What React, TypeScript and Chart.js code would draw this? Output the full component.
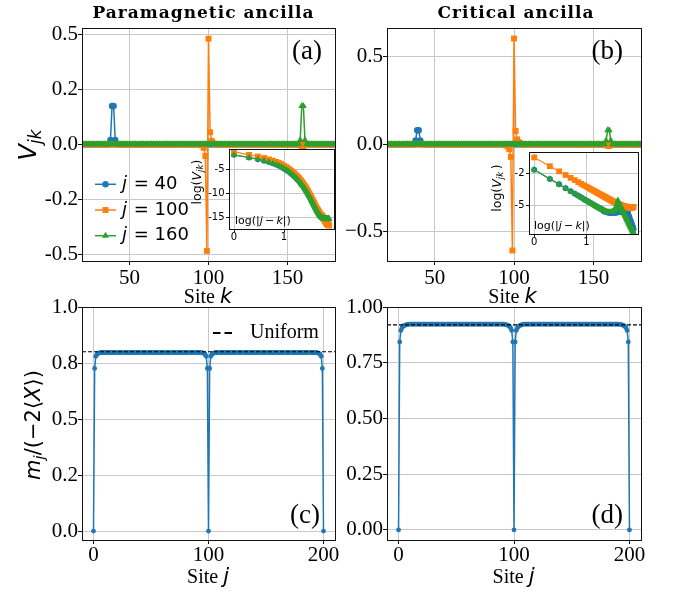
import React, { useEffect, useRef } from 'react';
import { Chart, registerables } from 'chart.js';

Chart.register(...registerables);

const W = 673;
const H = 595;
const BLUE = '#1f77b4';
const ORANGE = '#ff7f0e';
const GREEN = '#2ca02c';
const GRID = '#c9c9c9';
const INK = '#111111';
const SERIF = '"Liberation Serif", "DejaVu Serif", serif';
const SANS = '"DejaVu Sans", "Liberation Sans", sans-serif';

// ---------- categories ----------
const sitesK = [
  20, 21, 22, 23, 24, 25, 26, 27, 28, 29, 30, 31, 32, 33, 34, 35, 36, 37, 38, 39,
  40, 41, 42, 43, 44, 45, 46, 47, 48, 49, 50, 51, 52, 53, 54, 55, 56, 57, 58, 59,
  60, 61, 62, 63, 64, 65, 66, 67, 68, 69, 70, 71, 72, 73, 74, 75, 76, 77, 78, 79,
  80, 81, 82, 83, 84, 85, 86, 87, 88, 89, 90, 91, 92, 93, 94, 95, 96, 97, 98, 99,
  100, 101, 102, 103, 104, 105, 106, 107, 108, 109, 110, 111, 112, 113, 114, 115, 116, 117, 118, 119,
  120, 121, 122, 123, 124, 125, 126, 127, 128, 129, 130, 131, 132, 133, 134, 135, 136, 137, 138, 139,
  140, 141, 142, 143, 144, 145, 146, 147, 148, 149, 150, 151, 152, 153, 154, 155, 156, 157, 158, 159,
  160, 161, 162, 163, 164, 165, 166, 167, 168, 169, 170, 171, 172, 173, 174, 175, 176, 177, 178, 179,
  180,
];

const sitesJ = [
  0, 1, 2, 3, 4, 5, 6, 7, 8, 9, 10, 11, 12, 13, 14, 15, 16, 17, 18, 19,
  20, 21, 22, 23, 24, 25, 26, 27, 28, 29, 30, 31, 32, 33, 34, 35, 36, 37, 38, 39,
  40, 41, 42, 43, 44, 45, 46, 47, 48, 49, 50, 51, 52, 53, 54, 55, 56, 57, 58, 59,
  60, 61, 62, 63, 64, 65, 66, 67, 68, 69, 70, 71, 72, 73, 74, 75, 76, 77, 78, 79,
  80, 81, 82, 83, 84, 85, 86, 87, 88, 89, 90, 91, 92, 93, 94, 95, 96, 97, 98, 99,
  100, 101, 102, 103, 104, 105, 106, 107, 108, 109, 110, 111, 112, 113, 114, 115, 116, 117, 118, 119,
  120, 121, 122, 123, 124, 125, 126, 127, 128, 129, 130, 131, 132, 133, 134, 135, 136, 137, 138, 139,
  140, 141, 142, 143, 144, 145, 146, 147, 148, 149, 150, 151, 152, 153, 154, 155, 156, 157, 158, 159,
  160, 161, 162, 163, 164, 165, 166, 167, 168, 169, 170, 171, 172, 173, 174, 175, 176, 177, 178, 179,
  180, 181, 182, 183, 184, 185, 186, 187, 188, 189, 190, 191, 192, 193, 194, 195, 196, 197, 198, 199,
  200,
];

// |j-k| distances for the insets
const dists = [
  1, 2, 3, 4, 5, 6, 7, 8, 9, 10, 11, 12, 13, 14, 15, 16, 17, 18, 19, 20,
  21, 22, 23, 24, 25, 26, 27, 28, 29, 30, 31, 32, 33, 34, 35, 36, 37, 38, 39, 40,
  41, 42, 43, 44, 45, 46, 47, 48, 49, 50, 51, 52, 53, 54, 55, 56, 57, 58, 59, 60,
  61, 62, 63, 64, 65, 66, 67, 68, 69, 70, 71, 72, 73, 74, 75, 76, 77, 78, 79, 80,
];

const seriesJ = ['40', '100', '160'];

// ---------- (a) paramagnetic ancilla, V_jk vs k ----------
const paraV40 = [
  0, 0, 0, 0, 0, 0, 0, 0, 0, 0, 0, 0, 0, 0, 0, 0, 0, 0, 0.02, 0.174,
  0.174, 0.02, 0, 0, 0, 0, 0, 0, 0, 0, 0, 0, 0, 0, 0, 0, 0, 0, 0, 0,
  0, 0, 0, 0, 0, 0, 0, 0, 0, 0, 0, 0, 0, 0, 0, 0, 0, 0, 0, 0,
  0, 0, 0, 0, 0, 0, 0, 0, 0, 0, 0, 0, 0, 0, 0, 0, 0, 0, 0, 0,
  0, 0, 0, 0, 0, 0, 0, 0, 0, 0, 0, 0, 0, 0, 0, 0, 0, 0, 0, 0,
  0, 0, 0, 0, 0, 0, 0, 0, 0, 0, 0, 0, 0, 0, 0, 0, 0, 0, 0, 0,
  0, 0, 0, 0, 0, 0, 0, 0, 0, 0, 0, 0, 0, 0, 0, 0, 0, 0, 0, 0,
  0, 0, 0, 0, 0, 0, 0, 0, 0, 0, 0, 0, 0, 0, 0, 0, 0, 0, 0, 0,
  0,
];
const paraV100 = [
  0, 0, 0, 0, 0, 0, 0, 0, 0, 0, 0, 0, 0, 0, 0, 0, 0, 0, 0, 0,
  0, 0, 0, 0, 0, 0, 0, 0, 0, 0, 0, 0, 0, 0, 0, 0, 0, 0, 0, 0,
  0, 0, 0, 0, 0, 0, 0, 0, 0, 0, 0, 0, 0, 0, 0, 0, 0, 0, 0, 0,
  0, 0, 0, 0, 0, 0, 0, 0, 0, 0, 0, 0, 0, 0, 0, 0, -0.005, -0.016, -0.053, -0.484,
  0.48, 0.055, 0.016, 0.005, 0, 0, 0, 0, 0, 0, 0, 0, 0, 0, 0, 0, 0, 0, 0, 0,
  0, 0, 0, 0, 0, 0, 0, 0, 0, 0, 0, 0, 0, 0, 0, 0, 0, 0, 0, 0,
  0, 0, 0, 0, 0, 0, 0, 0, 0, 0, 0, 0, 0, 0, 0, 0, 0, 0, 0, -0.01,
  -0.012, 0, 0, 0, 0, 0, 0, 0, 0, 0, 0, 0, 0, 0, 0, 0, 0, 0, 0, 0,
  0,
];
const paraV160 = [
  0, 0, 0, 0, 0, 0, 0, 0, 0, 0, 0, 0, 0, 0, 0, 0, 0, 0, 0, 0,
  0, 0, 0, 0, 0, 0, 0, 0, 0, 0, 0, 0, 0, 0, 0, 0, 0, 0, 0, 0,
  0, 0, 0, 0, 0, 0, 0, 0, 0, 0, 0, 0, 0, 0, 0, 0, 0, 0, 0, 0,
  0, 0, 0, 0, 0, 0, 0, 0, 0, 0, 0, 0, 0, 0, 0, 0, 0, 0, 0, 0,
  0, 0, 0, 0, 0, 0, 0, 0, 0, 0, 0, 0, 0, 0, 0, 0, 0, 0, 0, 0,
  0, 0, 0, 0, 0, 0, 0, 0, 0, 0, 0, 0, 0, 0, 0, 0, 0, 0, 0, 0,
  0, 0, 0, 0, 0, 0, 0, 0, 0, 0, 0, 0, 0, 0, 0, 0, 0, 0, 0.02, 0.174,
  0.174, 0.02, 0, 0, 0, 0, 0, 0, 0, 0, 0, 0, 0, 0, 0, 0, 0, 0, 0, 0,
  0,
];

// ---------- (b) critical ancilla, V_jk vs k ----------
const critV40 = [
  0, 0, 0, 0, 0, 0, 0, 0, 0, 0, 0, 0, 0, 0, 0, 0, 0, 0, 0.022, 0.08,
  0.08, 0.022, 0, 0, 0, 0, 0, 0, 0, 0, 0, 0, 0, 0, 0, 0, 0, 0, 0, 0,
  0, 0, 0, 0, 0, 0, 0, 0, 0, 0, 0, 0, 0, 0, 0, 0, 0, 0, 0, 0,
  0, 0, 0, 0, 0, 0, 0, 0, 0, 0, 0, 0, 0, 0, 0, 0, 0, 0, 0, 0,
  0, 0, 0, 0, 0, 0, 0, 0, 0, 0, 0, 0, 0, 0, 0, 0, 0, 0, 0, 0,
  0, 0, 0, 0, 0, 0, 0, 0, 0, 0, 0, 0, 0, 0, 0, 0, 0, 0, 0, 0,
  0, 0, 0, 0, 0, 0, 0, 0, 0, 0, 0, 0, 0, 0, 0, 0, 0, 0, 0, 0,
  0, 0, 0, 0, 0, 0, 0, 0, 0, 0, 0, 0, 0, 0, 0, 0, 0, 0, 0, 0,
  0,
];
const critV100 = [
  0, 0, 0, 0, 0, 0, 0, 0, 0, 0, 0, 0, 0, 0, 0, 0, 0, 0, 0, 0,
  0, 0, 0, 0, 0, 0, 0, 0, 0, 0, 0, 0, 0, 0, 0, 0, 0, 0, 0, 0,
  0, 0, 0, 0, 0, 0, 0, 0, 0, 0, 0, 0, 0, 0, 0, 0, 0, 0, 0, 0,
  0, 0, 0, 0, 0, 0, 0, 0, 0, 0, 0, 0, 0, 0, 0, -0.006, -0.012, -0.028, -0.072, -0.606,
  0.604, 0.076, 0.028, 0.012, 0.006, 0, 0, 0, 0, 0, 0, 0, 0, 0, 0, 0, 0, 0, 0, 0,
  0, 0, 0, 0, 0, 0, 0, 0, 0, 0, 0, 0, 0, 0, 0, 0, 0, 0, 0, 0,
  0, 0, 0, 0, 0, 0, 0, 0, 0, 0, 0, 0, 0, 0, 0, 0, 0, 0, 0, -0.008,
  -0.01, 0, 0, 0, 0, 0, 0, 0, 0, 0, 0, 0, 0, 0, 0, 0, 0, 0, 0, 0,
  0,
];
const critV160 = [
  0, 0, 0, 0, 0, 0, 0, 0, 0, 0, 0, 0, 0, 0, 0, 0, 0, 0, 0, 0,
  0, 0, 0, 0, 0, 0, 0, 0, 0, 0, 0, 0, 0, 0, 0, 0, 0, 0, 0, 0,
  0, 0, 0, 0, 0, 0, 0, 0, 0, 0, 0, 0, 0, 0, 0, 0, 0, 0, 0, 0,
  0, 0, 0, 0, 0, 0, 0, 0, 0, 0, 0, 0, 0, 0, 0, 0, 0, 0, 0, 0,
  0, 0, 0, 0, 0, 0, 0, 0, 0, 0, 0, 0, 0, 0, 0, 0, 0, 0, 0, 0,
  0, 0, 0, 0, 0, 0, 0, 0, 0, 0, 0, 0, 0, 0, 0, 0, 0, 0, 0, 0,
  0, 0, 0, 0, 0, 0, 0, 0, 0, 0, 0, 0, 0, 0, 0, 0, 0, 0, 0.022, 0.08,
  0.08, 0.022, 0, 0, 0, 0, 0, 0, 0, 0, 0, 0, 0, 0, 0, 0, 0, 0, 0, 0,
  0,
];

// ---------- insets: log(V_jk) vs |j-k| ----------
const paraLog40 = [
  -2.0, -2.55, -2.9, -3.2, -3.5, -3.75, -4.0, -4.25, -4.5, -4.8,
  -5.06, -5.32, -5.58, -5.84, -6.1, -6.36, -6.62, -6.88, -7.14, -7.4,
  -7.66, -7.92, -8.18, -8.44, -8.7, -8.96, -9.22, -9.48, -9.74, -10.0,
  -10.25, -10.5, -10.75, -11.0, -11.25, -11.5, -11.74, -11.97, -12.2, -12.42,
  -12.63, -12.84, -13.04, -13.24, -13.43, -13.61, -13.78, -13.94, -14.09, -14.23,
  -14.36, -14.48, -14.59, -14.69, -14.78, -14.86, -14.93, -14.99, -15.04, -15.08,
  -15.15, -15.2, -15.3, -15.35, -15.45, -15.5, -15.6, -15.65, -15.75, -15.8,
  -15.9, -15.95, -16.05, -16.1, -16.2, -16.25, -16.3, -16.4, -16.45, -16.5,
];
const paraLog100 = [
  -1.4, -2.0, -2.35, -2.65, -2.95, -3.2, -3.45, -3.7, -3.95, -4.25,
  -4.51, -4.77, -5.03, -5.29, -5.55, -5.81, -6.07, -6.33, -6.59, -6.85,
  -7.11, -7.37, -7.63, -7.89, -8.15, -8.41, -8.67, -8.93, -9.19, -9.45,
  -9.75, -10.0, -10.25, -10.5, -10.75, -11.0, -11.24, -11.47, -11.7, -11.92,
  -12.18, -12.39, -12.59, -12.79, -12.98, -13.16, -13.33, -13.49, -13.64, -13.78,
  -13.96, -14.08, -14.19, -14.29, -14.38, -14.46, -14.55, -14.65, -14.76, -14.88,
  -15.0, -15.12, -15.25, -15.38, -15.5, -15.62, -15.74, -15.85, -15.95, -16.05,
  -16.14, -16.22, -16.3, -16.36, -16.42, -16.46, -16.5, -16.52, -16.55, -16.55,
];
const paraLog160 = [
  -2.0, -2.55, -2.9, -3.2, -3.5, -3.75, -4.0, -4.25, -4.5, -4.8,
  -5.06, -5.32, -5.58, -5.84, -6.1, -6.36, -6.62, -6.88, -7.14, -7.4,
  -7.66, -7.92, -8.18, -8.44, -8.7, -8.96, -9.22, -9.48, -9.74, -10.0,
  -10.25, -10.5, -10.75, -11.0, -11.25, -11.5, -11.74, -11.97, -12.2, -12.42,
  -12.63, -12.84, -13.04, -13.24, -13.43, -13.61, -13.78, -13.94, -14.09, -14.23,
  -14.36, -14.48, -14.59, -14.69, -14.78, -14.86, -14.93, -14.99, -15.04, -15.08,
  -15.1, -15.12, -15.15, -15.1, -15.2, -15.15, -15.25, -15.1, -15.2, -15.3,
  -15.15, -15.2, -15.1, -15.25, -15.2, -15.3, -15.15, -15.2, -15.1, -15.25,
];

const critLog40 = [
  -1.7, -2.55, -3.05, -3.42, -3.7, -3.93, -4.12, -4.29, -4.44, -4.57,
  -4.69, -4.8, -4.9, -4.99, -5.08, -5.16, -5.23, -5.3, -5.36, -5.42,
  -5.52, -5.57, -5.61, -5.64, -5.67, -5.69, -5.7, -5.71, -5.71, -5.71,
  -5.71, -5.71, -5.71, -5.71, -5.7, -5.7, -5.69, -5.68, -5.67, -5.66,
  -5.65, -5.64, -5.63, -5.62, -5.61, -5.6, -5.59, -5.58, -5.57, -5.56,
  -5.55, -5.54, -5.53, -5.52, -5.51, -5.5, -5.48, -5.46, -5.44, -5.42,
  -5.6, -5.72, -5.83, -5.93, -6.03, -6.12, -6.21, -6.3, -6.38, -6.46,
  -6.54, -6.62, -6.7, -6.78, -6.86, -6.94, -7.02, -7.1, -7.18, -7.26,
];
const critLog100 = [
  -0.54, -1.36, -1.84, -2.18, -2.45, -2.66, -2.85, -3.01, -3.15, -3.27,
  -3.38, -3.49, -3.58, -3.67, -3.75, -3.83, -3.9, -3.97, -4.03, -4.09,
  -4.15, -4.2, -4.25, -4.3, -4.35, -4.39, -4.44, -4.48, -4.52, -4.56,
  -4.6, -4.63, -4.67, -4.7, -4.73, -4.76, -4.79, -4.82, -4.85, -4.88,
  -4.9, -4.93, -4.95, -4.97, -4.99, -5.01, -5.03, -5.05, -5.06, -5.08,
  -5.09, -5.1, -5.11, -5.12, -5.13, -5.14, -5.15, -5.16, -5.17, -5.18,
  -5.19, -5.2, -5.2, -5.21, -5.21, -5.22, -5.22, -5.22, -5.23, -5.23,
  -5.23, -5.23, -5.23, -5.22, -5.22, -5.21, -5.2, -5.19, -5.18, -5.16,
];
const critLog160 = [
  -1.7, -2.55, -3.05, -3.42, -3.7, -3.93, -4.12, -4.29, -4.44, -4.57,
  -4.69, -4.8, -4.9, -4.99, -5.08, -5.16, -5.23, -5.3, -5.36, -5.42,
  -5.47, -5.52, -5.56, -5.59, -5.62, -5.64, -5.65, -5.66, -5.66, -5.65,
  -5.63, -5.6, -5.56, -5.5, -5.42, -5.32, -5.19, -5.02, -4.8, -4.55,
  -4.66, -4.77, -4.88, -4.98, -5.07, -5.17, -5.26, -5.36, -5.45, -5.54,
  -5.62, -5.71, -5.79, -5.87, -5.95, -6.03, -6.1, -6.18, -6.25, -6.32,
  -6.4, -6.47, -6.53, -6.6, -6.67, -6.74, -6.8, -6.87, -6.93, -6.99,
  -7.05, -7.11, -7.17, -7.23, -7.29, -7.35, -7.4, -7.46, -7.52, -7.57,
];

// ---------- (c),(d) m_j / (-2<X>) vs j ----------
const paraM = [
  0, 0.726, 0.78, 0.789, 0.793, 0.795, 0.796, 0.797, 0.797, 0.797, 0.797, 0.797, 0.797, 0.797, 0.797, 0.797, 0.797, 0.797, 0.797, 0.797,
  0.797, 0.797, 0.797, 0.797, 0.797, 0.797, 0.797, 0.797, 0.797, 0.797, 0.797, 0.797, 0.797, 0.797, 0.797, 0.797, 0.797, 0.797, 0.797, 0.797,
  0.797, 0.797, 0.797, 0.797, 0.797, 0.797, 0.797, 0.797, 0.797, 0.797, 0.797, 0.797, 0.797, 0.797, 0.797, 0.797, 0.797, 0.797, 0.797, 0.797,
  0.797, 0.797, 0.797, 0.797, 0.797, 0.797, 0.797, 0.797, 0.797, 0.797, 0.797, 0.797, 0.797, 0.797, 0.797, 0.797, 0.797, 0.797, 0.797, 0.797,
  0.797, 0.797, 0.797, 0.797, 0.797, 0.797, 0.797, 0.797, 0.797, 0.797, 0.797, 0.797, 0.797, 0.797, 0.796, 0.795, 0.793, 0.789, 0.78, 0.726,
  0, 0.726, 0.78, 0.789, 0.793, 0.795, 0.796, 0.797, 0.797, 0.797, 0.797, 0.797, 0.797, 0.797, 0.797, 0.797, 0.797, 0.797, 0.797, 0.797,
  0.797, 0.797, 0.797, 0.797, 0.797, 0.797, 0.797, 0.797, 0.797, 0.797, 0.797, 0.797, 0.797, 0.797, 0.797, 0.797, 0.797, 0.797, 0.797, 0.797,
  0.797, 0.797, 0.797, 0.797, 0.797, 0.797, 0.797, 0.797, 0.797, 0.797, 0.797, 0.797, 0.797, 0.797, 0.797, 0.797, 0.797, 0.797, 0.797, 0.797,
  0.797, 0.797, 0.797, 0.797, 0.797, 0.797, 0.797, 0.797, 0.797, 0.797, 0.797, 0.797, 0.797, 0.797, 0.797, 0.797, 0.797, 0.797, 0.797, 0.797,
  0.797, 0.797, 0.797, 0.797, 0.797, 0.797, 0.797, 0.797, 0.797, 0.797, 0.797, 0.797, 0.797, 0.797, 0.796, 0.795, 0.793, 0.789, 0.78, 0.726,
  0,
];
const critM = [
  0, 0.843, 0.895, 0.907, 0.913, 0.917, 0.919, 0.921, 0.922, 0.923, 0.923, 0.923, 0.923, 0.923, 0.923, 0.923, 0.923, 0.923, 0.923, 0.923,
  0.923, 0.923, 0.923, 0.923, 0.923, 0.923, 0.923, 0.923, 0.923, 0.923, 0.923, 0.923, 0.923, 0.923, 0.923, 0.923, 0.923, 0.923, 0.923, 0.923,
  0.923, 0.923, 0.923, 0.923, 0.923, 0.923, 0.923, 0.923, 0.923, 0.923, 0.923, 0.923, 0.923, 0.923, 0.923, 0.923, 0.923, 0.923, 0.923, 0.923,
  0.923, 0.923, 0.923, 0.923, 0.923, 0.923, 0.923, 0.923, 0.923, 0.923, 0.923, 0.923, 0.923, 0.923, 0.923, 0.923, 0.923, 0.923, 0.923, 0.923,
  0.923, 0.923, 0.923, 0.923, 0.923, 0.923, 0.923, 0.923, 0.923, 0.923, 0.923, 0.923, 0.922, 0.921, 0.919, 0.917, 0.913, 0.907, 0.895, 0.843,
  0, 0.843, 0.895, 0.907, 0.913, 0.917, 0.919, 0.921, 0.922, 0.923, 0.923, 0.923, 0.923, 0.923, 0.923, 0.923, 0.923, 0.923, 0.923, 0.923,
  0.923, 0.923, 0.923, 0.923, 0.923, 0.923, 0.923, 0.923, 0.923, 0.923, 0.923, 0.923, 0.923, 0.923, 0.923, 0.923, 0.923, 0.923, 0.923, 0.923,
  0.923, 0.923, 0.923, 0.923, 0.923, 0.923, 0.923, 0.923, 0.923, 0.923, 0.923, 0.923, 0.923, 0.923, 0.923, 0.923, 0.923, 0.923, 0.923, 0.923,
  0.923, 0.923, 0.923, 0.923, 0.923, 0.923, 0.923, 0.923, 0.923, 0.923, 0.923, 0.923, 0.923, 0.923, 0.923, 0.923, 0.923, 0.923, 0.923, 0.923,
  0.923, 0.923, 0.923, 0.923, 0.923, 0.923, 0.923, 0.923, 0.923, 0.923, 0.923, 0.923, 0.922, 0.921, 0.919, 0.917, 0.913, 0.907, 0.895, 0.843,
  0,
];
const paraUniform = 0.8;
const critUniform = 0.92;

// ---------- ticks ----------
const kTicks = [50, 100, 150];
const kTickLabels = ['50', '100', '150'];
const vTicksA = [-0.5, -0.25, 0, 0.25, 0.5];
const vTickLabelsA = ['-0.5', '-0.2', '0.0', '0.2', '0.5'];
const vTicksB = [-0.5, 0, 0.5];
const vTickLabelsB = ['\u22120.5', '0.0', '0.5'];
const jTicks = [0, 100, 200];
const jTickLabels = ['0', '100', '200'];
const mTicks = [0, 0.25, 0.5, 0.75, 1];
const mTickLabelsC = ['0.0', '0.2', '0.5', '0.8', '1.0'];
const mTickLabelsD = ['0.00', '0.25', '0.50', '0.75', '1.00'];
const dTicks = [1, 10];
const dTickLabels = ['0', '1'];
const logTicksA = [-15, -10, -5];
const logTickLabelsA = ['-15', '-10', '-5'];
const logTicksB = [-5, -2];
const logTickLabelsB = ['-5', '-2'];

// ---------- helpers ----------
type Axis = { type?: string; min: number; max: number; ticks: number[]; labels: string[] };
type Spec = {
  box: { l: number; t: number; r: number; b: number };
  yW: number;
  xH: number;
  x: Axis;
  y: Axis;
  font: string;
  fontSize: number;
  xTick: [number, number];
  yTick: [number, number];
  datasets: any[];
  plugins?: any[];
};

function scaleOpts(ax: Axis, horizontal: boolean, size: number, font: string, fontSize: number, tl: number, pad: number) {
  return {
    type: ax.type ?? 'linear',
    position: horizontal ? 'bottom' : 'left',
    min: ax.min,
    max: ax.max,
    afterBuildTicks: (s: any) => {
      s.ticks = ax.ticks.map((value) => ({ value }));
    },
    afterFit: (s: any) => {
      if (horizontal) s.height = size;
      else s.width = size;
    },
    ticks: {
      autoSkip: false,
      maxRotation: 0,
      minRotation: 0,
      padding: pad,
      color: '#000',
      font: { family: font, size: fontSize },
      callback: (_v: any, i: number) => ax.labels[i],
    },
    grid: { color: GRID, lineWidth: 1, drawTicks: true, tickLength: tl, tickColor: INK, tickWidth: 1 },
    border: { display: false },
  };
}

const framePlugin = {
  id: 'frame',
  afterDraw(chart: any) {
    const { ctx, chartArea: a } = chart;
    const L = Math.round(a.left - 0.5) + 0.5;
    const R = Math.round(a.right - 0.5) + 0.5;
    const T = Math.round(a.top - 0.5) + 0.5;
    const B = Math.round(a.bottom - 0.5) + 0.5;
    ctx.save();
    ctx.strokeStyle = INK;
    ctx.lineWidth = 1;
    ctx.strokeRect(L, T, R - L, B - T);
    ctx.restore();
  },
};

const whiteBgPlugin = {
  id: 'whiteBg',
  beforeDraw(chart: any) {
    const { ctx, chartArea: a } = chart;
    ctx.save();
    ctx.fillStyle = '#ffffff';
    ctx.fillRect(a.left, a.top, a.right - a.left, a.bottom - a.top);
    ctx.restore();
  },
};

function drawMarker(ctx: CanvasRenderingContext2D, style: string, x: number, y: number, r: number) {
  ctx.beginPath();
  if (style === 'circle') ctx.arc(x, y, r, 0, Math.PI * 2);
  else if (style === 'rect') {
    const s = r * Math.SQRT1_2;
    ctx.rect(x - s, y - s, 2 * s, 2 * s);
  } else {
    ctx.moveTo(x, y - r);
    ctx.lineTo(x + r * 0.866, y + r / 2);
    ctx.lineTo(x - r * 0.866, y + r / 2);
    ctx.closePath();
  }
  ctx.fill();
}

const legendStyles = [
  { color: BLUE, style: 'circle', r: 3.2 },
  { color: ORANGE, style: 'rect', r: 4.2 },
  { color: GREEN, style: 'triangle', r: 4 },
];

const seriesLegendPlugin = {
  id: 'seriesLegend',
  afterDraw(chart: any) {
    const { ctx, chartArea: a } = chart;
    const x0 = a.left + 13;
    ctx.save();
    legendStyles.forEach((s, i) => {
      const y = a.top + 156.3 + i * 25.7;
      ctx.strokeStyle = s.color;
      ctx.fillStyle = s.color;
      ctx.lineWidth = 1.5;
      ctx.beginPath();
      ctx.moveTo(x0, y);
      ctx.lineTo(x0 + 21, y);
      ctx.stroke();
      drawMarker(ctx, s.style, x0 + 10.5, y, s.r);
      ctx.fillStyle = '#000';
      ctx.textBaseline = 'middle';
      ctx.textAlign = 'left';
      ctx.font = `italic 18px ${SANS}`;
      const tx = x0 + 27;
      ctx.fillText('j', tx, y);
      const wj = ctx.measureText('j').width;
      ctx.font = `18px ${SANS}`;
      ctx.fillText(` = ${seriesJ[i]}`, tx + wj + 1, y);
    });
    ctx.restore();
  },
};

function uniformPlugin(u: number, withLegend: boolean) {
  return {
    id: 'uniform',
    afterDatasetsDraw(chart: any) {
      const { ctx, chartArea: a } = chart;
      const y = chart.scales.y.getPixelForValue(u);
      ctx.save();
      ctx.strokeStyle = '#000';
      ctx.lineWidth = 1.1;
      ctx.setLineDash([4, 2]);
      ctx.beginPath();
      ctx.moveTo(a.left, y);
      ctx.lineTo(a.right, y);
      ctx.stroke();
      if (withLegend) {
        const ly = a.top + 26;
        ctx.lineWidth = 2.2;
        ctx.setLineDash([7.5, 4]);
        ctx.beginPath();
        ctx.moveTo(a.left + 131, ly);
        ctx.lineTo(a.left + 152, ly);
        ctx.stroke();
        ctx.setLineDash([]);
        ctx.fillStyle = '#000';
        ctx.textBaseline = 'middle';
        ctx.textAlign = 'left';
        ctx.font = `20px ${SERIF}`;
        ctx.fillText('Uniform', a.left + 168, ly);
      }
      ctx.restore();
    },
  };
}

function series(xs: number[], ys: number[], color: string, style: string, r: number, bw: number) {
  return {
    data: xs.map((x, i) => ({ x, y: ys[i] })),
    borderColor: color,
    backgroundColor: color,
    borderWidth: bw,
    pointStyle: style,
    pointRadius: r,
    pointHoverRadius: r,
    pointBackgroundColor: color,
    pointBorderColor: color,
    pointBorderWidth: 0,
    tension: 0,
    fill: false,
  };
}

function build(canvas: HTMLCanvasElement, spec: Spec) {
  return new Chart(canvas, {
    type: 'line',
    data: { datasets: spec.datasets },
    options: {
      responsive: false,
      maintainAspectRatio: false,
      animation: false,
      devicePixelRatio: 1,
      events: [],
      layout: {
        padding: {
          left: spec.box.l - spec.yW,
          right: W - spec.box.r,
          top: spec.box.t,
          bottom: H - spec.box.b - spec.xH,
        },
      },
      plugins: { legend: { display: false }, tooltip: { enabled: false }, title: { display: false } },
      scales: {
        x: scaleOpts(spec.x, true, spec.xH, spec.font, spec.fontSize, spec.xTick[0], spec.xTick[1]),
        y: scaleOpts(spec.y, false, spec.yW, spec.font, spec.fontSize, spec.yTick[0], spec.yTick[1]),
      },
    } as any,
    plugins: [...(spec.plugins ?? []), framePlugin],
  });
}

function makeSpecs(): Spec[] {
  const mainV = (v40: number[], v100: number[], v160: number[]) => [
    series(sitesK, v160, GREEN, 'triangle', 4, 1.5),
    series(sitesK, v100, ORANGE, 'rect', 4.2, 1.5),
    series(sitesK, v40, BLUE, 'circle', 3.2, 1.5),
  ];
  const insetV = (v40: number[], v100: number[], v160: number[]) => [
    series(dists, v160, GREEN, 'triangle', 3.8, 1.2),
    series(dists, v100, ORANGE, 'rect', 4.1, 1.2),
    series(dists, v40, BLUE, 'circle', 3, 1.2),
  ];
  return [
    {
      box: { l: 82, t: 28, r: 335, b: 261 },
      yW: 60, xH: 30,
      x: { min: 20, max: 180, ticks: kTicks, labels: kTickLabels },
      y: { min: -0.53, max: 0.5286, ticks: vTicksA, labels: vTickLabelsA },
      font: SERIF, fontSize: 21, xTick: [4, 1], yTick: [4, 0],
      datasets: mainV(paraV40, paraV100, paraV160),
      plugins: [seriesLegendPlugin],
    },
    {
      box: { l: 387, t: 28, r: 641, b: 261 },
      yW: 60, xH: 30,
      x: { min: 20, max: 180, ticks: kTicks, labels: kTickLabels },
      y: { min: -0.666, max: 0.664, ticks: vTicksB, labels: vTickLabelsB },
      font: SERIF, fontSize: 21, xTick: [4, 1], yTick: [4, 0],
      datasets: mainV(critV40, critV100, critV160),
    },
    {
      box: { l: 82, t: 307, r: 335, b: 540 },
      yW: 60, xH: 30,
      x: { min: -10, max: 210, ticks: jTicks, labels: jTickLabels },
      y: { min: -0.04, max: 1.0, ticks: mTicks, labels: mTickLabelsC },
      font: SERIF, fontSize: 21, xTick: [4, -1.5], yTick: [4, 0],
      datasets: [series(sitesJ, paraM, BLUE, 'circle', 2.4, 1.5)],
      plugins: [uniformPlugin(paraUniform, true)],
    },
    {
      box: { l: 387, t: 307, r: 641, b: 540 },
      yW: 60, xH: 30,
      x: { min: -10, max: 210, ticks: jTicks, labels: jTickLabels },
      y: { min: -0.045, max: 1.0, ticks: mTicks, labels: mTickLabelsD },
      font: SERIF, fontSize: 21, xTick: [4, -1.5], yTick: [4, 0],
      datasets: [series(sitesJ, critM, BLUE, 'circle', 2.4, 1.5)],
      plugins: [uniformPlugin(critUniform, false)],
    },
    {
      box: { l: 229, t: 149, r: 334, b: 229 },
      yW: 30, xH: 20,
      x: { type: 'logarithmic', min: 0.7943, max: 100, ticks: dTicks, labels: dTickLabels },
      y: { min: -17.3, max: -0.8, ticks: logTicksA, labels: logTickLabelsA },
      font: SANS, fontSize: 10, xTick: [3, -1], yTick: [3, 1.5],
      datasets: insetV(paraLog40, paraLog100, paraLog160),
      plugins: [whiteBgPlugin],
    },
    {
      box: { l: 529, t: 152, r: 638, b: 234 },
      yW: 30, xH: 20,
      x: { type: 'logarithmic', min: 0.7943, max: 97.72, ticks: dTicks, labels: dTickLabels },
      y: { min: -7.7, max: -0.03, ticks: logTicksB, labels: logTickLabelsB },
      font: SANS, fontSize: 10, xTick: [3, -1], yTick: [3, 1.5],
      datasets: insetV(critLog40, critLog100, critLog160),
      plugins: [whiteBgPlugin],
    },
  ];
}

const abs: React.CSSProperties = { position: 'absolute', whiteSpace: 'nowrap', lineHeight: 1, color: '#000' };
const subStyle: React.CSSProperties = { fontSize: '0.7em', verticalAlign: '-0.28em', lineHeight: 0 };

function Center({ x, y, rot, children, style }: { x: number; y: number; rot?: boolean; children: React.ReactNode; style?: React.CSSProperties }) {
  return (
    <div style={{ ...abs, left: x, top: y, transform: `translate(-50%, -50%)${rot ? ' rotate(-90deg)' : ''}`, ...style }}>
      {children}
    </div>
  );
}

function Right({ x, y, children, style }: { x: number; y: number; children: React.ReactNode; style?: React.CSSProperties }) {
  return <div style={{ ...abs, left: x, top: y, transform: 'translate(-100%, -50%)', ...style }}>{children}</div>;
}

function Left({ x, y, children, style }: { x: number; y: number; children: React.ReactNode; style?: React.CSSProperties }) {
  return <div style={{ ...abs, left: x, top: y, transform: 'translate(0, -50%)', ...style }}>{children}</div>;
}

const titleStyle: React.CSSProperties = { fontFamily: '"DejaVu Serif", serif', fontWeight: 'bold', fontSize: 17, letterSpacing: 1 };
const panelStyle: React.CSSProperties = { fontFamily: SERIF, fontSize: 27 };
const siteStyle: React.CSSProperties = { fontFamily: SERIF, fontSize: 20 };
const mathI: React.CSSProperties = { fontFamily: SANS, fontStyle: 'italic' };

function SiteLabel({ v }: { v: string }) {
  return (
    <span>
      Site <span style={{ ...mathI, fontSize: 21 }}>{v}</span>
    </span>
  );
}

export default function App() {
  const refs = useRef<(HTMLCanvasElement | null)[]>([]);
  useEffect(() => {
    const specs = makeSpecs();
    const charts = specs.map((s, i) => build(refs.current[i] as HTMLCanvasElement, s));
    return () => charts.forEach((c) => c.destroy());
  }, []);

  return (
    <div style={{ position: 'absolute', left: 0, top: 0, width: W, height: H, background: '#ffffff', overflow: 'hidden' }}>
      {[0, 1, 2, 3, 4, 5].map((i) => (
        <canvas
          key={i}
          ref={(el) => {
            refs.current[i] = el;
          }}
          width={W}
          height={H}
          style={{ position: 'absolute', left: 0, top: 0, width: W, height: H }}
        />
      ))}

      <Center x={203.5} y={11.5} style={titleStyle}>Paramagnetic ancilla</Center>
      <Center x={516} y={11.5} style={titleStyle}>Critical ancilla</Center>

      <Right x={322} y={50} style={panelStyle}>(a)</Right>
      <Right x={623} y={50} style={panelStyle}>(b)</Right>
      <Right x={320} y={513.5} style={panelStyle}>(c)</Right>
      <Right x={623} y={513.5} style={panelStyle}>(d)</Right>

      <Center x={27.5} y={145} rot style={{ fontFamily: SANS, fontSize: 24 }}>
        <i>V</i>
        <sub style={subStyle}><i>jk</i></sub>
      </Center>
      <Center x={33} y={425} rot style={{ fontFamily: SANS, fontSize: 21 }}>
        <i>m</i>
        <sub style={subStyle}><i>j</i></sub>/(−2⟨<i>X</i>⟩)
      </Center>

      <Center x={208} y={296} style={siteStyle}><SiteLabel v="k" /></Center>
      <Center x={512.5} y={296} style={siteStyle}><SiteLabel v="k" /></Center>
      <Center x={208} y={576} style={siteStyle}><SiteLabel v="j" /></Center>
      <Center x={513.5} y={576} style={siteStyle}><SiteLabel v="j" /></Center>

      <Center x={196.5} y={182} rot style={{ fontFamily: SANS, fontSize: 12.5 }}>
        log(<i>V</i>
        <sub style={subStyle}><i>jk</i></sub>)
      </Center>
      <Center x={496.5} y={187.5} rot style={{ fontFamily: SANS, fontSize: 12.5 }}>
        log(<i>V</i>
        <sub style={subStyle}><i>jk</i></sub>&#8201;)
      </Center>

      <Left x={235} y={219.5} style={{ fontFamily: SANS, fontSize: 11 }}>
        log(|<i>j</i>&#8201;−&#8201;<i>k</i>|)
      </Left>
      <Left x={534} y={225} style={{ fontFamily: SANS, fontSize: 11 }}>
        log(|<i>j</i>&#8201;−&#8201;<i>k</i>|)
      </Left>
    </div>
  );
}
